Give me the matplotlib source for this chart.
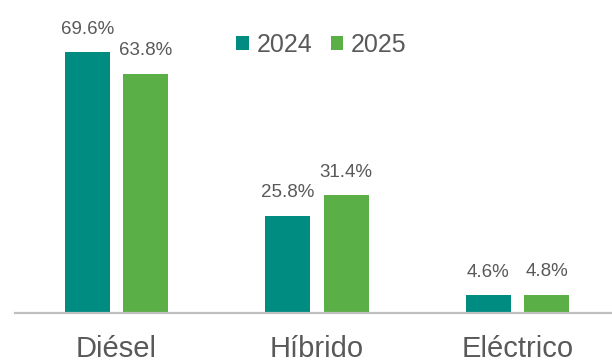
import matplotlib
matplotlib.use("Agg")
import matplotlib.pyplot as plt
import numpy as np

# market share by powertrain
categories = ["Diésel", "Híbrido", "Eléctrico"]
years = ["2024", "2025"]
share_2024 = [69.6, 25.8, 4.6]
share_2025 = [63.8, 31.4, 4.8]

teal = "#008C80"
green = "#5AAF47"
txt = "#595959"

plt.rcParams["font.family"] = ["Liberation Sans", "DejaVu Sans"]

fig = plt.figure(figsize=(6.12, 3.63), dpi=100)
ax = fig.add_axes([15 / 612, 50.3 / 363, 597 / 612, 312.7 / 363])

x = np.arange(len(categories))
w = 0.225
off = 0.145

b1 = ax.bar(x - off, share_2024, w, color=teal, label=years[0])
b2 = ax.bar(x + off, share_2025, w, color=green, label=years[1])

# value labels above each bar
for bars, vals in ((b1, share_2024), (b2, share_2025)):
    for rect, v in zip(bars, vals):
        ax.annotate(f"{v:.1f}%", (rect.get_x() + rect.get_width() / 2, v),
                    xytext=(0, 13.5), textcoords="offset points",
                    ha="center", va="baseline", fontsize=13.5, color=txt)

ax.set_xlim(-0.506, 2.471)
ax.set_ylim(0, 83.6)
ax.set_xticks(x)
ax.set_xticklabels(categories, fontsize=21, color=txt)
ax.tick_params(axis="x", length=0, pad=16)
ax.set_yticks([])

for s in ("top", "right", "left"):
    ax.spines[s].set_visible(False)
ax.spines["bottom"].set_color("#BFBFBF")
ax.spines["bottom"].set_linewidth(1.6)

leg = ax.legend(loc="center", bbox_to_anchor=(321.5 / 612, 1 - 45 / 363),
                bbox_transform=fig.transFigure, ncol=2, frameon=False,
                fontsize=18, handlelength=0.5, handleheight=0.5,
                handletextpad=0.3, columnspacing=0.75, borderpad=0)
for t in leg.get_texts():
    t.set_color(txt)

fig.savefig("out.png", dpi=100)
